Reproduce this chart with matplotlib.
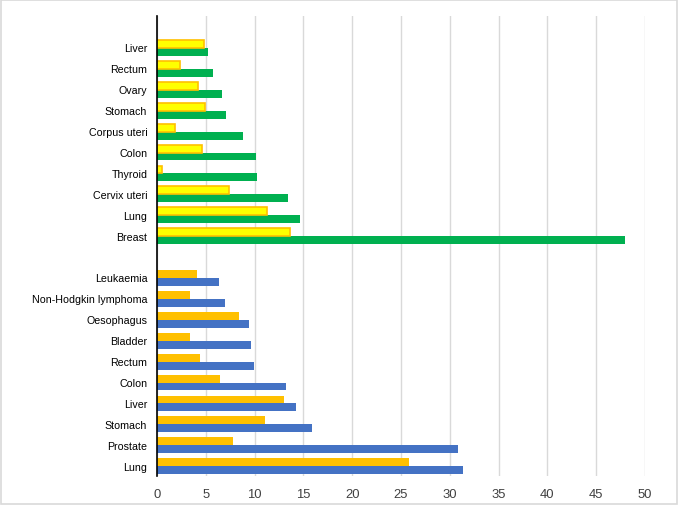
import numpy as np
import matplotlib.pyplot as plt

# male sites, bottom to top
male_sites = ['Lung', 'Prostate', 'Stomach', 'Liver', 'Colon', 'Rectum',
              'Bladder', 'Oesophagus', 'Non-Hodgkin lymphoma', 'Leukaemia']
male_incidence = [31.4, 30.8, 15.9, 14.2, 13.2, 9.9, 9.6, 9.4, 7.0, 6.4]
male_mortality = [25.8, 7.8, 11.1, 13.0, 6.45, 4.45, 3.4, 8.4, 3.4, 4.1]

# female sites, bottom to top
female_sites = ['Breast', 'Lung', 'Cervix uteri', 'Thyroid', 'Colon',
                'Corpus uteri', 'Stomach', 'Ovary', 'Rectum', 'Liver']
female_incidence = [48.0, 14.7, 13.4, 10.2, 10.1, 8.8, 7.1, 6.7, 5.7, 5.25]
female_mortality = [13.65, 11.25, 7.35, 0.5, 4.6, 1.8, 4.9, 4.25, 2.4, 4.8]

xticks = list(range(0, 55, 5))

fig = plt.figure(figsize=(6.78, 5.06), dpi=100)
ax = fig.add_axes([157 / 678, 29 / 506, 488 / 678, 460 / 506])

h = 0.38
y_male = np.arange(len(male_sites)) - 0.03
y_female = np.arange(len(female_sites)) + len(male_sites) + 1 - 0.03

ax.barh(y_male - h / 2, male_incidence, height=h, color='#4472C4', zorder=3)
ax.barh(y_male + h / 2, male_mortality, height=h, color='#FFC000', zorder=3)
ax.barh(y_female - h / 2, female_incidence, height=h, color='#00B050', zorder=3)
ax.barh(y_female + h / 2, female_mortality, height=h, color='#FFFF00',
        edgecolor='#FFC000', linewidth=1.2, zorder=3)

ax.set_yticks(np.concatenate([y_male, y_female]) + 0.03)
ax.set_yticklabels(male_sites + female_sites, fontsize=7.7, family='Liberation Sans')
ax.set_ylim(-0.5, len(male_sites) + len(female_sites) + 1.5)

ax.set_xlim(0, 50)
ax.set_xticks(xticks)
ax.set_xticklabels([str(t) for t in xticks], fontsize=9.4, family='Liberation Sans',
                   color='#404040')
ax.tick_params(axis='both', length=0)
ax.tick_params(axis='y', pad=7)
ax.tick_params(axis='x', pad=9)

ax.grid(axis='x', color='#D9D9D9', linewidth=1, zorder=0)
for s in ['top', 'right', 'bottom']:
    ax.spines[s].set_visible(False)
ax.spines['left'].set_color('black')
ax.spines['left'].set_linewidth(1.2)
ax.spines['left'].set_zorder(4)

# light border round the figure
fig.patches.append(plt.Rectangle((0.001, 0.001), 0.997, 0.997, transform=fig.transFigure,
                                 fill=False, edgecolor='#D9D9D9', linewidth=1.2))

fig.savefig('out.png', dpi=100)
